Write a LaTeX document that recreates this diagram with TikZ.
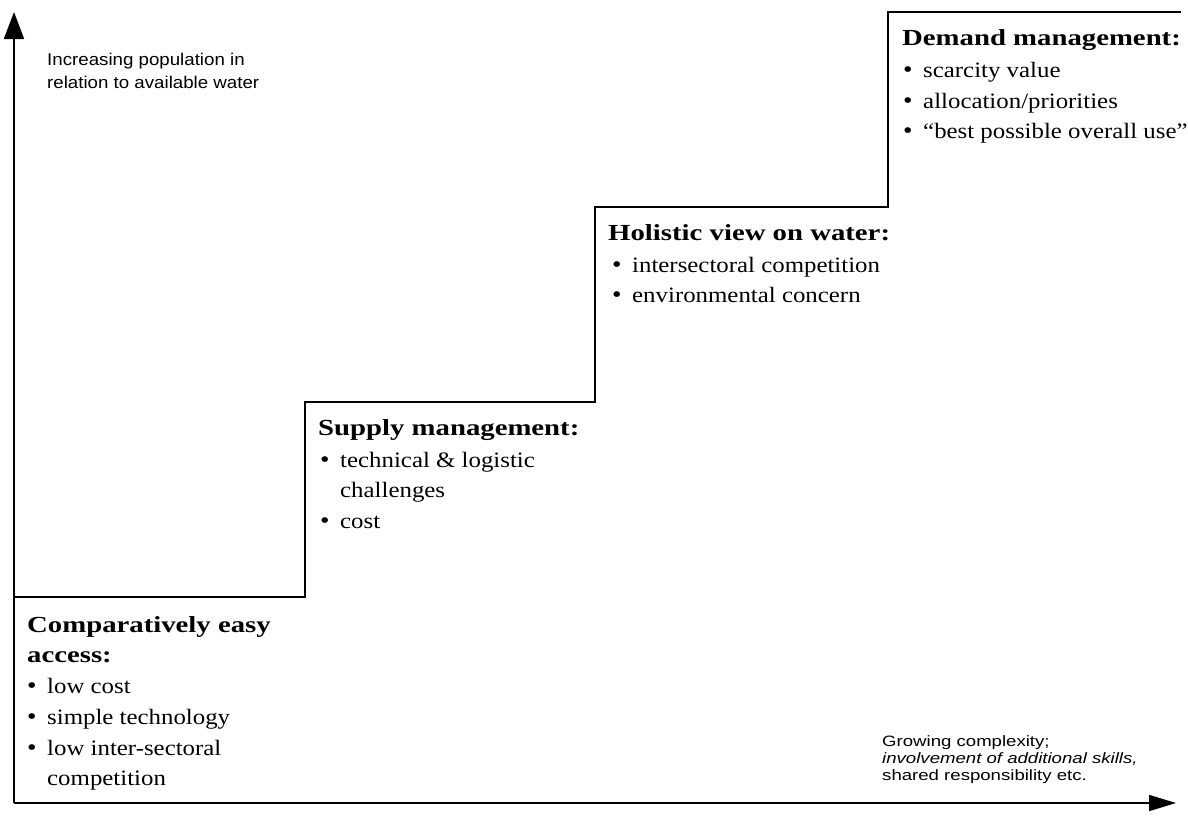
\documentclass[tikz,border=0pt]{standalone}
\usepackage{fontspec}
\setmainfont{Liberation Serif}
\newfontfamily\bodyfont[FakeStretch=1.13]{Liberation Serif}
\newfontfamily\headfont[FakeStretch=1.25]{Liberation Serif}
\newfontfamily\labelfont[FakeStretch=1.1]{Liberation Sans}
\newfontfamily\labelfontwide[FakeStretch=1.24]{Liberation Sans}
\usetikzlibrary{arrows.meta}
\newcommand\bulmark{\makebox[20pt][l]{\raisebox{0pt}{\fontsize{24}{24}\selectfont\textbullet}}}
\tikzset{
  axisline/.style={line width=1.7pt},
  stairline/.style={line width=1.7pt, line join=miter},
  hd/.style={anchor=base west, inner sep=0pt, font=\headfont\bfseries\fontsize{23}{28}\selectfont},
  bd/.style={anchor=base west, inner sep=0pt, font=\bodyfont\fontsize{22}{28}\selectfont},
  lab/.style={anchor=base west, inner sep=0pt, font=\labelfont\fontsize{17}{20}\selectfont},
  labsmall/.style={anchor=base west, inner sep=0pt, font=\labelfontwide\fontsize{15}{17}\selectfont},
}
\begin{document}
\begin{tikzpicture}[x=1pt,y=-1pt]
\useasboundingbox (0,0) rectangle (1188,817);
% axes
\coordinate (origin) at (14,803);
\coordinate (ytip) at (14,12);
\coordinate (xtip) at (1176,803);
\draw[axisline,-{Triangle[length=27pt,width=20pt]}] (origin) -- (ytip);
\draw[axisline,-{Triangle[length=27pt,width=16pt]}] (origin) -- (xtip);
% staircase
\coordinate (s0) at (14,597);
\coordinate (s1) at (305,597);
\coordinate (s2) at (305,402);
\coordinate (s3) at (595,402);
\coordinate (s4) at (595,207);
\coordinate (s5) at (888,207);
\coordinate (s6) at (888,12);
\coordinate (s7) at (1181,12);
\draw[stairline] (s0) -- (s1) -- (s2) -- (s3) -- (s4) -- (s5) -- (s6) -- (s7);
% axis labels
\node[lab] (yl1) at (47,65) {Increasing population in};
\node[lab] (yl2) at (47,88) {relation to available water};
\node[labsmall] (xl1) at (882,746) {Growing complexity;};
\node[labsmall] (xl2) at (882,763) {\itshape involvement of additional skills,};
\node[labsmall] (xl3) at (882,780) {shared responsibility etc.};
% step 1
\node[hd] (a0) at (27,632) {Comparatively easy};
\node[hd] (a1) at (27,662) {access:};
\node[bd] (a2) at (27,693) {\bulmark low cost};
\node[bd] (a3) at (27,724) {\bulmark simple technology};
\node[bd] (a4) at (27,755) {\bulmark low inter-sectoral};
\node[bd] (a5) at (47,785) {competition};
% step 2
\node[hd] (b0) at (318,435) {Supply management:};
\node[bd] (b1) at (320,467) {\bulmark technical \& logistic};
\node[bd] (b2) at (340,497) {challenges};
\node[bd] (b3) at (320,528) {\bulmark cost};
% step 3
\node[hd] (c0) at (608,240) {Holistic view on water:};
\node[bd] (c1) at (612,272) {\bulmark intersectoral competition};
\node[bd] (c2) at (612,302) {\bulmark environmental concern};
% step 4
\node[hd] (d0) at (902,45) {Demand management:};
\node[bd] (d1) at (903,77) {\bulmark scarcity value};
\node[bd] (d2) at (903,108) {\bulmark allocation/priorities};
\node[bd] (d3) at (903,138) {\bulmark “best possible overall use”};
\end{tikzpicture}
\end{document}
